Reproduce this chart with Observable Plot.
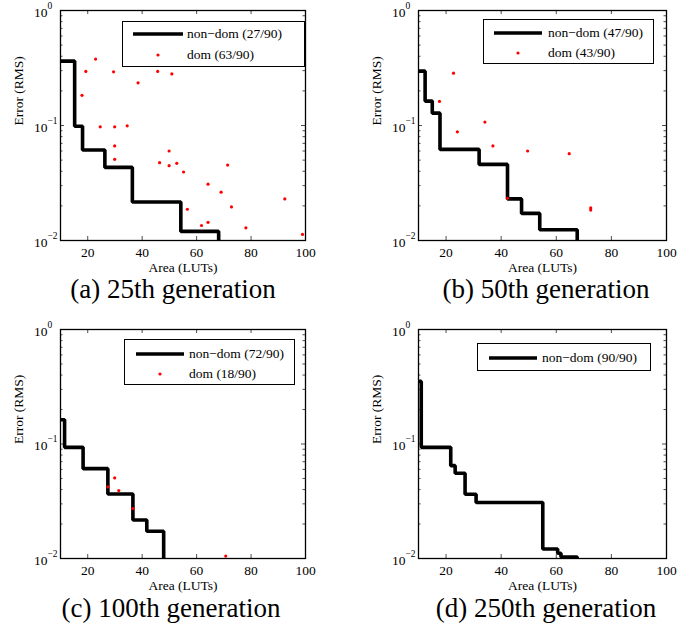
<!DOCTYPE html>
<html>
<head>
<meta charset="utf-8">
<script src="https://cdn.jsdelivr.net/npm/d3@7"></script>
<script src="https://cdn.jsdelivr.net/npm/@observablehq/plot@0.6"></script>
<style>
  body { margin: 0; background: #fff; }
  #root { position: relative; width: 699px; height: 629px; background: #fff; font-family: "Liberation Serif", "Times New Roman", Times, "Nimbus Roman", "DejaVu Serif", serif; color: #000; }
  .panel { position: absolute; }
  .legend { position: absolute; background: #fff; border: 1.3px solid #000; box-sizing: border-box; }
  .legend svg { position: absolute; left: 0; top: 0; overflow: visible; }
  .legend .lbl { position: absolute; font-size: 13.5px; line-height: 1; white-space: nowrap; transform: translateY(-50%); }
  .caption { position: absolute; font-size: 27px; line-height: 0.8; white-space: nowrap; transform: translateX(-50%); }
</style>
</head>
<body>
<div id="root"></div>
<script>
const FONT = "'Liberation Serif', 'Times New Roman', Times, 'Nimbus Roman', 'DejaVu Serif', serif";
// ---- shared axis values ----
const xDomain = [10, 100];
const yDomain = [0.01, 1];
const xTicks = [20, 40, 60, 80, 100];
const yMajor = [0.01, 0.1, 1];
const yExponents = ["\u22122", "\u22121", "0"];
const yMinor = [0.02, 0.03, 0.04, 0.05, 0.06, 0.07, 0.08, 0.09, 0.2, 0.3, 0.4, 0.5, 0.6, 0.7, 0.8, 0.9];
const xLabel = "Area (LUTs)";
const yLabel = "Error (RMS)";

// ---- (a) 25th generation ----
const aNonDomX = [10, 15.2, 18.1, 26.3, 36.4, 54.2, 68.1];
const aNonDomY = [0.363, 0.0986, 0.0612, 0.0432, 0.0216, 0.012, 0.01];
const aDomX = [22.9, 19.3, 29.5, 45.7, 50.9, 38.5, 17.9, 24.6, 29.9, 34.5, 29.9, 49.9, 29.9, 46.4, 49.9, 52.7, 55.2, 71.4, 64.2, 69.0, 56.6, 72.8, 92.4, 61.8, 64.2, 78.1, 98.9];
const aDomY = [0.378, 0.295, 0.293, 0.295, 0.281, 0.235, 0.183, 0.0973, 0.0973, 0.0993, 0.0664, 0.060, 0.0508, 0.0475, 0.0447, 0.0469, 0.0394, 0.0453, 0.0309, 0.0263, 0.0187, 0.0196, 0.0230, 0.0135, 0.0144, 0.0129, 0.0113];

// ---- (b) 50th generation ----
const bNonDomX = [10, 12.4, 15.0, 17.8, 32.0, 42.3, 47.4, 54.0, 67.6];
const bNonDomY = [0.297, 0.163, 0.128, 0.062, 0.0459, 0.0230, 0.0172, 0.0124, 0.01];
const bDomX = [22.7, 17.6, 34.1, 24.1, 37.0, 49.6, 64.7, 42.3, 72.5, 72.5];
const bDomY = [0.285, 0.162, 0.107, 0.0881, 0.0664, 0.0600, 0.0569, 0.0233, 0.0192, 0.0184];

// ---- (c) 100th generation ----
const cNonDomX = [10, 11.5, 18.3, 27.4, 36.6, 41.7, 47.9];
const cNonDomY = [0.163, 0.0935, 0.0609, 0.0366, 0.0217, 0.0173, 0.01];
const cDomX = [27.4, 29.9, 31.4, 36.6, 70.7];
const cDomY = [0.0422, 0.0505, 0.0392, 0.0273, 0.0105];

// ---- (d) 250th generation ----
const dNonDomX = [10, 11.0, 21.7, 23.3, 26.9, 30.9, 55.1, 60.5, 61.7, 67.6];
const dNonDomY = [0.352, 0.0935, 0.0647, 0.0555, 0.0364, 0.0308, 0.0121, 0.0111, 0.0103, 0.01];
const dDomX = [];
const dDomY = [];

const legendNonDom = ["non\u2212dom (27/90)", "non\u2212dom (47/90)", "non\u2212dom (72/90)", "non\u2212dom (90/90)"];
const legendDom = ["dom (63/90)", "dom (43/90)", "dom (18/90)", null];
const captions = ["(a) 25th generation", "(b) 50th generation", "(c) 100th generation", "(d) 250th generation"];

const root = document.getElementById("root");

function makePanel(cfg) {
  const plotH = cfg.height - cfg.mT - cfg.mB;
  const plotW = cfg.width - cfg.mL - cfg.mR;
  const line = cfg.ndX.map((x, i) => ({x, y: cfg.ndY[i]}));
  const dots = cfg.domX.map((x, i) => ({x, y: cfg.domY[i]}));
  const tickStyle = {stroke: "black", strokeWidth: 0.7};
  const chart = Plot.plot({
    width: cfg.width,
    height: cfg.height,
    marginLeft: cfg.mL,
    marginRight: cfg.mR,
    marginTop: cfg.mT,
    marginBottom: cfg.mB,
    style: {fontFamily: FONT, fontSize: "13.5px", color: "black", background: "white", overflow: "visible"},
    x: {type: "linear", domain: xDomain},
    y: {type: "log", domain: yDomain, axis: null},
    marks: [
      Plot.line(line, {x: "x", y: "y", curve: "step-after", stroke: "black", strokeWidth: 3.6, strokeLinejoin: "miter", strokeLinecap: "butt", clip: true}),
      Plot.dot(dots, {x: "x", y: "y", r: 1.6, fill: "#ff0000", stroke: "none"}),
      // inward ticks, bottom & top
      Plot.tickX(xTicks, {x: d => d, insetTop: plotH - 4, ...tickStyle}),
      Plot.tickX(xTicks, {x: d => d, insetBottom: plotH - 4, ...tickStyle}),
      // inward ticks, left & right (major + minor)
      Plot.tickY(yMajor, {y: d => d, insetRight: plotW - 4, ...tickStyle}),
      Plot.tickY(yMajor, {y: d => d, insetLeft: plotW - 4, ...tickStyle}),
      Plot.tickY(yMinor, {y: d => d, insetRight: plotW - 2.5, ...tickStyle}),
      Plot.tickY(yMinor, {y: d => d, insetLeft: plotW - 2.5, ...tickStyle}),
      Plot.frame({stroke: "black", strokeWidth: 1.3}),
      Plot.axisX({ticks: xTicks, tickSize: 0, tickPadding: 7, fontSize: 13.5, label: null}),
      // y tick labels 10^k
      Plot.text(yMajor, {frameAnchor: "left", y: d => d, text: () => "10", textAnchor: "end", dx: -13, dy: 2, fontSize: 13.5, fill: "black"}),
      Plot.text(yMajor, {frameAnchor: "left", y: d => d, text: (d, i) => yExponents[i], textAnchor: "start", dx: -13, dy: -5, fontSize: 9.5, fill: "black"}),
      // axis titles
      Plot.text([xLabel], {frameAnchor: "bottom", text: d => d, lineAnchor: "top", dy: 22, fontSize: 13.5, fill: "black"}),
      Plot.text([yLabel], {frameAnchor: "left", text: d => d, rotate: -90, dx: -42, fontSize: 13.5, fill: "black"})
    ]
  });
  const wrap = document.createElement("div");
  wrap.className = "panel";
  wrap.style.left = cfg.left + "px";
  wrap.style.top = cfg.top + "px";
  wrap.appendChild(chart);
  root.appendChild(wrap);

  // legend box
  const lg = cfg.legend;
  const box = document.createElement("div");
  box.className = "legend";
  box.style.left = lg.left + "px";
  box.style.top = lg.top + "px";
  box.style.width = lg.w + "px";
  box.style.height = lg.h + "px";
  const ns = "http://www.w3.org/2000/svg";
  const svg = document.createElementNS(ns, "svg");
  svg.setAttribute("width", lg.w);
  svg.setAttribute("height", lg.h);
  const ln = document.createElementNS(ns, "line");
  ln.setAttribute("x1", lg.lx1); ln.setAttribute("x2", lg.lx2);
  ln.setAttribute("y1", lg.ly); ln.setAttribute("y2", lg.ly);
  ln.setAttribute("stroke", "black"); ln.setAttribute("stroke-width", 3.6);
  svg.appendChild(ln);
  if (cfg.domText) {
    const c = document.createElementNS(ns, "circle");
    c.setAttribute("cx", (lg.lx1 + lg.lx2) / 2); c.setAttribute("cy", lg.dy);
    c.setAttribute("r", 1.6); c.setAttribute("fill", "#ff0000");
    svg.appendChild(c);
  }
  box.appendChild(svg);
  const t1 = document.createElement("div");
  t1.className = "lbl"; t1.textContent = cfg.ndText;
  t1.style.left = lg.tx + "px"; t1.style.top = lg.ly + "px";
  box.appendChild(t1);
  if (cfg.domText) {
    const t2 = document.createElement("div");
    t2.className = "lbl"; t2.textContent = cfg.domText;
    t2.style.left = lg.tx + "px"; t2.style.top = lg.dy + "px";
    box.appendChild(t2);
  }
  root.appendChild(box);

  const cap = document.createElement("div");
  cap.className = "caption";
  cap.textContent = cfg.caption;
  cap.style.left = cfg.capX + "px";
  cap.style.top = cfg.capY + "px";
  root.appendChild(cap);
}

makePanel({left: 0, top: 0, width: 340, height: 280, mL: 60, mR: 35, mT: 10, mB: 40,
  ndX: aNonDomX, ndY: aNonDomY, domX: aDomX, domY: aDomY,
  ndText: legendNonDom[0], domText: legendDom[0], caption: captions[0], capX: 173, capY: 279,
  legend: {left: 122, top: 21, w: 183, h: 46, lx1: 10, lx2: 60, ly: 12, dy: 33, tx: 64}});
makePanel({left: 340, top: 0, width: 359, height: 280, mL: 78, mR: 33, mT: 10, mB: 40,
  ndX: bNonDomX, ndY: bNonDomY, domX: bDomX, domY: bDomY,
  ndText: legendNonDom[1], domText: legendDom[1], caption: captions[1], capX: 546, capY: 279,
  legend: {left: 483, top: 19, w: 171, h: 45, lx1: 10, lx2: 58, ly: 13, dy: 33, tx: 64}});
makePanel({left: 0, top: 319, width: 340, height: 280, mL: 60, mR: 35, mT: 10, mB: 41,
  ndX: cNonDomX, ndY: cNonDomY, domX: cDomX, domY: cDomY,
  ndText: legendNonDom[2], domText: legendDom[2], caption: captions[2], capX: 171, capY: 598,
  legend: {left: 124, top: 339, w: 171, h: 46, lx1: 11, lx2: 59, ly: 14, dy: 34, tx: 64}});
makePanel({left: 340, top: 319, width: 359, height: 280, mL: 78, mR: 33, mT: 10, mB: 41,
  ndX: dNonDomX, ndY: dNonDomY, domX: dDomX, domY: dDomY,
  ndText: legendNonDom[3], domText: legendDom[3], caption: captions[3], capX: 546, capY: 598,
  legend: {left: 477, top: 343, w: 174, h: 28, lx1: 11, lx2: 59, ly: 14, dy: 0, tx: 64}});
</script>
</body>
</html>
